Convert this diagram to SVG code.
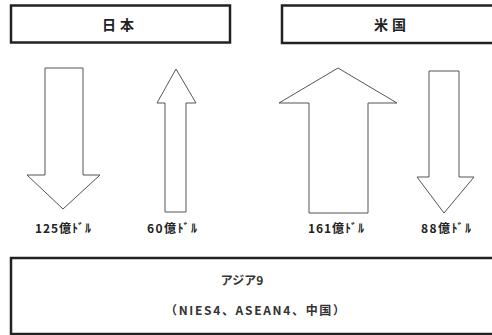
<svg xmlns="http://www.w3.org/2000/svg" width="492" height="335" viewBox="0 0 492 335">
<style>
.box{fill:#fff;stroke:#222;stroke-width:2.5}
.arr{fill:#fff;stroke:#555;stroke-width:1}
.t{font-family:"Noto Sans CJK JP","Liberation Sans",sans-serif;font-weight:bold;fill:#222;text-anchor:middle}
.lb{font-size:12px}
.hd{font-size:14px}
.as{font-size:12px;fill:#333}
</style>
<rect width="492" height="335" fill="#fff"/>
<g id="japan"><rect class="box" x="11" y="5.5" width="219" height="37"/><text class="t hd" x="118" y="30" textLength="32" lengthAdjust="spacing">日本</text></g>
<g id="usa"><rect class="box" x="282" y="5.5" width="220" height="37.5"/><text class="t hd" x="390" y="30" textLength="32" lengthAdjust="spacing">米国</text></g>
<g id="asia"><rect class="box" x="11" y="258" width="490" height="76"/>
<text class="t as" x="242" y="285">アジア9</text>
<text class="t as" x="255" y="315" textLength="180" lengthAdjust="spacing">（NIES4、ASEAN4、中国）</text></g>
<g id="connectors">
<polygon class="arr" points="45,68 83,68 83,175 100,175 63,209 27,175 45,175"/>
<polygon class="arr" points="176,69 196,103 186,103 186,212 165,212 165,103 157,103"/>
<polygon class="arr" points="338,68 397,103 368,103 368,213 309,213 309,103 279,103"/>
<polygon class="arr" points="429,71 459,71 459,177 474,177 444,213 417,177 429,177"/>
</g>
<g id="labels">
<text class="t lb" x="63" y="233" textLength="56" lengthAdjust="spacing">125億ﾄﾞﾙ</text>
<text class="t lb" x="172" y="233" textLength="50" lengthAdjust="spacing">60億ﾄﾞﾙ</text>
<text class="t lb" x="336" y="233" textLength="56" lengthAdjust="spacing">161億ﾄﾞﾙ</text>
<text class="t lb" x="446" y="233" textLength="50" lengthAdjust="spacing">88億ﾄﾞﾙ</text>
</g>
</svg>
